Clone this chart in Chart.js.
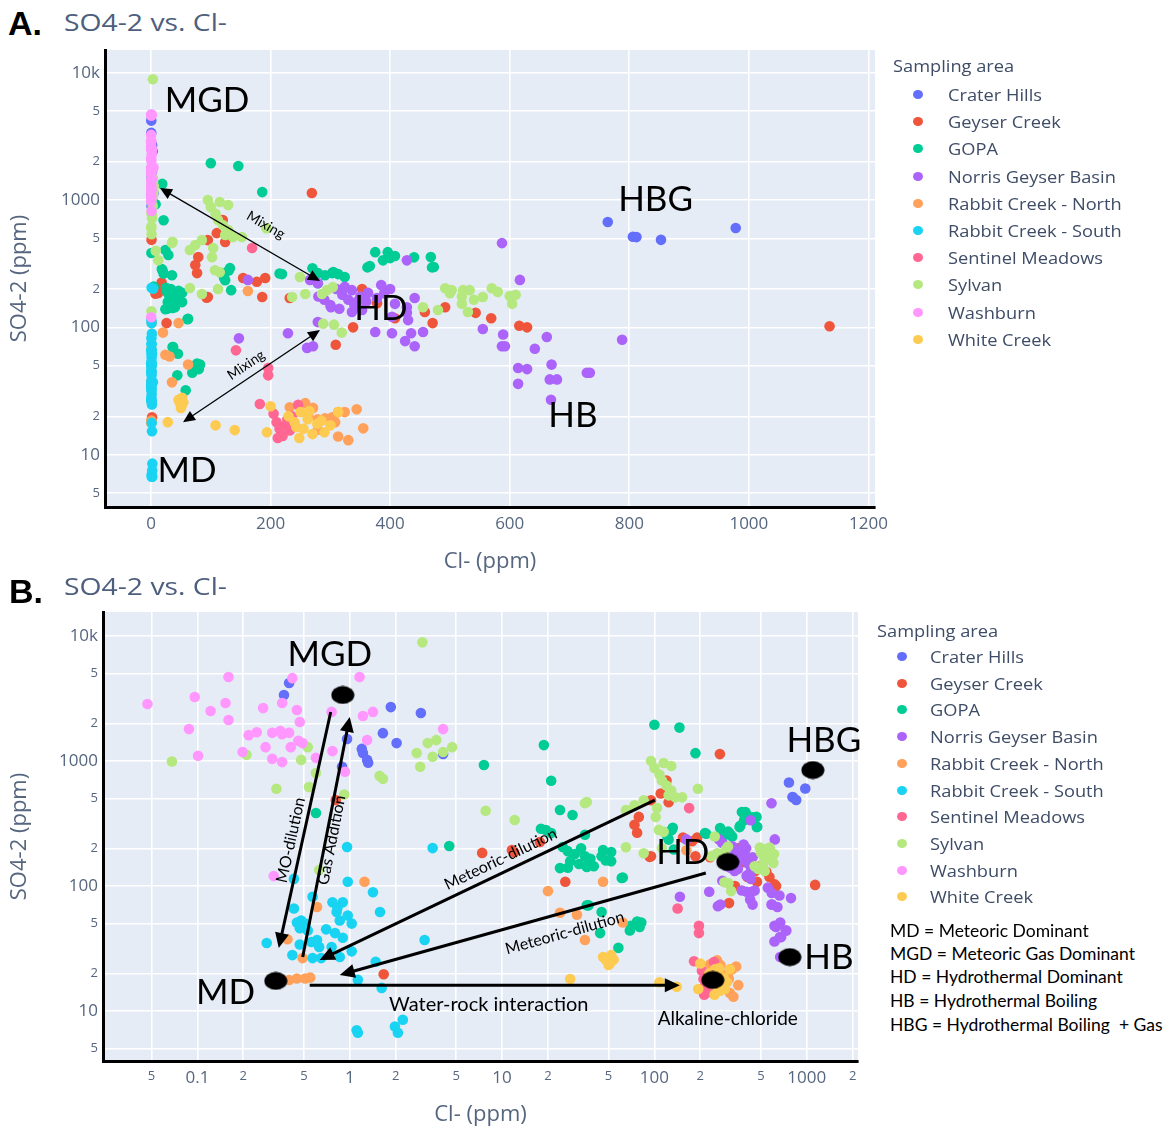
<!DOCTYPE html>
<html lang="en">
<head>
<meta charset="utf-8">
<title>SO4-2 vs. Cl-</title>
<script src="https://cdn.jsdelivr.net/npm/chart.js@4.4.1/dist/chart.umd.min.js"></script>
<style>
  html, body { margin: 0; padding: 0; background: #fff; }
  #page { position: relative; width: 1169px; height: 1132px; overflow: hidden; }
  canvas { position: absolute; }
  .letter { position: absolute; font: bold 34px/34px "Liberation Sans", Arial, sans-serif; color: #000; }
  .title { position: absolute; font: 24px/24px "Open Sans", sans-serif; color: #4e5f7d; white-space: nowrap;
           transform: scaleX(1.18); transform-origin: 0 0; }
  .legend-title, .legend-item { position: absolute; font: 16px/16px "Open Sans", sans-serif; color: #3e4c66;
           white-space: nowrap; transform: scaleX(1.14); transform-origin: 0 0; }
  .legend-dot { position: absolute; width: 10px; height: 9px; border-radius: 50%; }
  .abbr { position: absolute; font: 17.5px/18px Lato, sans-serif; color: #000; white-space: pre; }
</style>
</head>
<body>
<div id="page">
  <div class="letter" style="left:8px;top:6px">A.</div>
  <div class="title" style="left:64px;top:10px">SO4-2 vs. Cl-</div>
  <canvas id="chartA" width="905" height="550" style="left:0;top:30px"></canvas>

  <div class="letter" style="left:9px;top:574px">B.</div>
  <div class="title" style="left:64px;top:574px">SO4-2 vs. Cl-</div>
  <canvas id="chartB" width="880" height="540" style="left:0;top:592px"></canvas>
</div>

<script>
// ---------- sampling areas ----------
const areaNames = [
  'Crater Hills', 'Geyser Creek', 'GOPA', 'Norris Geyser Basin', 'Rabbit Creek - North',
  'Rabbit Creek - South', 'Sentinel Meadows', 'Sylvan', 'Washburn', 'White Creek'
];

// each sample: [Cl- (ppm), SO4-2 (ppm)]
const craterHills = [
  [0.40, 4210], [0.37, 3370], [1.86, 2700], [2.93, 2420], [1.65, 1670], [2.03, 1390], [0.96, 1500],
  [1.2, 1250], [1.22, 1160], [1.3, 1020], [1.32, 970], [0.89, 900], [4.1, 1140],
  [764, 672], [806, 515], [812, 512], [853, 487], [978, 603]
];
const geyserCreek = [
  [0.81, 487], [1.67, 19.7], [7.4, 184], [11.6, 194], [17.7, 225], [26, 108], [12, 186],
  [269, 1135], [120, 697], [110, 550], [124, 468], [95, 485], [79, 357], [74, 309], [77, 267],
  [154, 244], [177, 228], [191, 244], [186, 173], [232, 170], [95, 173], [93, 171],
  [338, 100], [309, 73], [353, 200], [378, 155], [408, 118], [458, 132], [471, 108], [492, 144],
  [543, 130], [569, 118], [629, 100], [616, 103], [1135, 102]
];
const gopa = [
  [0.6, 384], [4.5, 209], [7.6, 929], [18.8, 1340], [21, 695], [24, 405], [29, 370], [19.4, 280],
  [21, 265], [18, 287], [35, 257], [25, 205], [27, 190], [30, 180], [33, 200], [35, 173], [38, 165],
  [28, 158], [27, 140], [32, 150], [36, 145], [40, 144], [45, 173], [48, 160], [52, 187], [52, 158],
  [46, 194], [24, 139], [36, 142], [62, 117], [61, 116], [37, 70], [45, 62], [36, 70], [44, 42],
  [69, 44], [80, 47], [58, 32], [77, 52], [82, 51], [70, 48], [100, 1950], [146, 1850], [186, 1155],
  [132, 292], [119, 267], [124, 235], [134, 196], [130, 280], [122, 246], [219, 262], [279, 267],
  [291, 257], [303, 267], [313, 262], [324, 249], [279, 222], [270, 291], [305, 272], [215, 265],
  [366, 303], [388, 336], [396, 390], [408, 364], [468, 357], [473, 298], [375, 390], [400, 350],
  [440, 355], [470, 296], [362, 296]
];
const norris = [
  [162, 236], [266, 236], [279, 222], [324, 208], [336, 196], [301, 144], [336, 132], [353, 137],
  [363, 187], [378, 170], [408, 153], [428, 144], [441, 170], [428, 130], [403, 121], [430, 114],
  [279, 110], [229, 90], [261, 69], [271, 71], [375, 92], [403, 90], [425, 78], [435, 90], [455, 92],
  [441, 71], [587, 459], [555, 97], [589, 88], [587, 71], [592, 71], [617, 236], [614, 48], [614, 36],
  [428, 336], [662, 84], [642, 68], [629, 47], [670, 51], [667, 39], [679, 39], [669, 27], [729, 44],
  [734, 44], [788, 80], [147, 82], [310, 200], [320, 180], [345, 160], [350, 175], [390, 185],
  [400, 200], [385, 215], [360, 160], [330, 165], [290, 165], [300, 150], [315, 140], [340, 150],
  [280, 175]
];
const rabbitNorth = [
  [0.39, 37.5], [0.49, 26.5], [0.61, 68], [0.40, 17.7], [0.45, 18.2], [0.51, 18.2], [0.55, 18.5],
  [1.25, 108], [20, 91], [46, 108], [35, 37], [24, 61], [31, 59], [62, 51], [162, 193],
  [232, 23.6], [258, 25.4], [271, 23.3], [263, 20], [279, 19], [291, 19.3], [303, 19.7], [308, 18],
  [313, 21.6], [324, 21.6], [344, 22.7], [355, 16.1], [313, 13.9], [279, 15.7], [330, 13]
];
const rabbitSouth = [
  [0.285, 35], [0.42, 28], [0.43, 66], [0.45, 51], [0.48, 53], [0.51, 50], [0.47, 46], [0.53, 44],
  [0.47, 34], [0.57, 26.5], [0.65, 26.5], [0.63, 32.5], [0.56, 35.6], [0.61, 37], [0.76, 32.5],
  [0.86, 27], [0.9, 38.5], [1.03, 30], [0.77, 74], [0.82, 62], [0.86, 53], [0.90, 74], [0.97, 58],
  [1.03, 50], [0.83, 67], [0.57, 82], [0.43, 114], [1.42, 89], [1.58, 62], [1.48, 24.8], [1.62, 15.3],
  [1.13, 17.8], [1.11, 7], [1.13, 6.7], [1.98, 7.5], [2.07, 6.7], [2.23, 8.5], [3.1, 37], [0.96, 205],
  [3.5, 201], [0.97, 108], [0.7, 45], [0.8, 42]
];
const sentinel = [
  [169, 420], [142, 66], [196, 48], [196, 42], [182, 25], [246, 24.6], [205, 21], [210, 18],
  [215, 16], [220, 14], [228, 19], [232, 15.5], [212, 13.5], [225, 17], [236, 20]
];
const sylvan = [
  [3.0, 8900], [0.068, 990], [0.21, 1120], [0.48, 1020], [0.53, 1290], [0.6, 800], [0.54, 620],
  [0.33, 600], [0.92, 540], [0.63, 134], [1.57, 760], [1.65, 720], [2.75, 1160], [2.9, 900],
  [3.25, 1390], [3.7, 1470], [3.5, 1080], [4.1, 1180], [4.7, 1290], [7.8, 400], [12.1, 337],
  [35, 460], [36, 470], [65, 405], [74, 443], [85, 485], [104, 420], [102, 356], [107, 281],
  [115, 271], [65, 204], [85, 183], [112, 200], [95, 1000], [115, 965], [129, 913], [112, 697],
  [120, 636], [129, 581], [124, 531], [137, 512], [152, 512], [108, 780], [100, 880], [193, 600],
  [249, 249], [258, 183], [236, 173], [286, 183], [294, 196], [304, 207], [288, 107], [306, 105],
  [319, 91], [492, 203], [503, 196], [522, 196], [533, 196], [520, 153], [530, 132], [555, 173],
  [570, 203], [600, 176], [604, 153], [480, 137], [455, 144], [500, 185], [540, 165], [580, 190],
  [610, 180], [520, 175]
];
const washburn = [
  [0.047, 2860], [0.16, 4700], [0.096, 3250], [0.122, 2510], [0.153, 2910], [0.16, 2130],
  [0.088, 1800], [0.101, 1100], [0.198, 1180], [0.217, 1610], [0.245, 1700], [0.27, 2650],
  [0.28, 1290], [0.31, 1680], [0.35, 1740], [0.36, 1640], [0.40, 1680], [0.31, 1040], [0.36, 980],
  [0.36, 2910], [0.42, 4600], [0.45, 2560], [0.47, 2050], [0.41, 1290], [0.46, 1450], [0.49, 1390],
  [0.6, 1060], [0.76, 2470], [0.77, 1200], [0.93, 820], [1.16, 4700], [1.22, 2290], [1.42, 2470],
  [1.3, 1470], [4.1, 1800], [0.317, 120]
];
const whiteCreek = [
  [48, 25.7], [52, 28], [50, 23.3], [54, 25.8], [46, 27], [51, 24], [28, 18], [108, 17], [140, 15.6],
  [200, 24], [194, 15], [230, 20], [240, 18], [250, 21.6], [255, 16], [262, 19], [270, 14.5],
  [278, 17.5], [265, 22], [248, 13.5], [285, 18.5], [313, 21.6], [290, 15], [300, 17], [243, 16.5]
];
const areaSamples = [craterHills, geyserCreek, gopa, norris, rabbitNorth, rabbitSouth, sentinel, sylvan, washburn, whiteCreek];

// end members marked in panel B (MGD, MD, HD, HBG, HB, alkaline-chloride)
const keyPointCl = [0.9, 0.327, 303, 1097, 774, 241.7];
const keyPointSO4 = [3373, 17.4, 155.6, 847, 27.0, 17.7];

// ---------- ticks ----------
const so4Ticks = [5, 10, 20, 50, 100, 200, 500, 1000, 2000, 5000, 10000];
const so4TickLabels = ['5', '10', '2', '5', '100', '2', '5', '1000', '2', '5', '10k'];
const clTicksLinear = [0, 200, 400, 600, 800, 1000, 1200];
const clTickLabelsLinear = ['0', '200', '400', '600', '800', '1000', '1200'];
const clTicksLog = [0.05, 0.1, 0.2, 0.5, 1, 2, 5, 10, 20, 50, 100, 200, 500, 1000, 2000];
const clTickLabelsLog = ['5', '0.1', '2', '5', '1', '2', '5', '10', '2', '5', '100', '2', '5', '1000', '2'];

const abbreviations = [
  'MD = Meteoric Dominant',
  'MGD = Meteoric Gas Dominant',
  'HD = Hydrothermal Dominant',
  'HB = Hydrothermal Boiling',
  'HBG = Hydrothermal Boiling  + Gas'
];

// ---------- styles ----------
const areaColors = ['#636efa', '#ef553b', '#00cc96', '#ab63fa', '#ffa15a', '#19d3f3', '#ff6692', '#b6e880', '#ff97ff', '#fecb52'];
const tickColor = '#56667f';

// annotations, positioned in data units
const notesA = {
  lineWidth: 1.3, headLength: 12, headWidth: 5.5,
  arrows: [
    { from: [282.6, 231], to: [15, 1242], both: true },
    { from: [53.5, 18.0], to: [282.6, 95.2], both: true }
  ],
  labels: [
    { text: 'MGD', at: [93.6, 6000], size: 35 },
    { text: 'HD', at: [384.6, 139], size: 35 },
    { text: 'HBG', at: [844, 1000], size: 35 },
    { text: 'HB', at: [705.6, 20.1], size: 35 },
    { text: 'MD', at: [60.2, 7.43], size: 35 },
    { text: 'Mixing', at: [192, 637], size: 14, along: 0 },
    { text: 'Mixing', at: [159, 50.6], size: 14, along: 1 }
  ]
};
const notesB = {
  lineWidth: 3, headLength: 15, headWidth: 7,
  arrows: [
    { from: [0.75, 2466], to: [0.342, 31.9] },
    { from: [0.491, 27.0], to: [1.0, 2249] },
    { from: [100.6, 487], to: [0.635, 25.6] },
    { from: [217.6, 127], to: [0.86, 19.4] },
    { from: [0.546, 16.1], to: [146.8, 16.1] }
  ],
  labels: [
    { text: 'MGD', at: [0.739, 7050], size: 35 },
    { text: 'MD', at: [0.153, 13.9], size: 35 },
    { text: 'HD', at: [153.6, 183.6], size: 35 },
    { text: 'HBG', at: [1295, 1445], size: 35 },
    { text: 'HB', at: [1397, 26.5], size: 35 },
    { text: 'MO-dilution', at: [0.41, 233], size: 16, along: 0 },
    { text: 'Gas Addition', at: [0.762, 233], size: 16, along: 1 },
    { text: 'Meteoric-dilution', at: [9.8, 164], size: 16, along: 2 },
    { text: 'Meteoric-dilution', at: [25.8, 42.1], size: 16, along: 3 },
    { text: 'Water-rock interaction', at: [8.18, 11.2], size: 20 },
    { text: 'Alkaline-chloride', at: [303, 8.63], size: 19 }
  ]
};

// ---------- plugins ----------
const plotBackground = {
  id: 'plotBackground',
  beforeDraw(chart) {
    const { ctx, chartArea: { left, top, width, height } } = chart;
    ctx.save();
    ctx.fillStyle = '#e5ecf6';
    ctx.fillRect(left, top, width, height);
    ctx.restore();
  }
};

function notesPlugin(notes) {
  return {
    id: 'notes',
    afterDatasetsDraw(chart) {
      const { ctx, scales: { x, y } } = chart;
      const toPx = ([cl, so4]) => [x.getPixelForValue(cl), y.getPixelForValue(so4)];
      const L = notes.headLength, W = notes.headWidth;
      const arrows = notes.arrows.map(a => ({ a: toPx(a.from), b: toPx(a.to), both: a.both }));

      ctx.save();
      ctx.strokeStyle = '#000';
      ctx.fillStyle = '#000';
      ctx.lineWidth = notes.lineWidth;

      const head = (tip, ux, uy) => {
        ctx.beginPath();
        ctx.moveTo(tip[0], tip[1]);
        ctx.lineTo(tip[0] - ux * L - uy * W, tip[1] - uy * L + ux * W);
        ctx.lineTo(tip[0] - ux * L + uy * W, tip[1] - uy * L - ux * W);
        ctx.closePath();
        ctx.fill();
      };

      arrows.forEach(({ a, b, both }) => {
        const ang = Math.atan2(b[1] - a[1], b[0] - a[0]);
        const ux = Math.cos(ang), uy = Math.sin(ang);
        const start = both ? [a[0] + ux * L * 0.8, a[1] + uy * L * 0.8] : a;
        ctx.beginPath();
        ctx.moveTo(start[0], start[1]);
        ctx.lineTo(b[0] - ux * L * 0.8, b[1] - uy * L * 0.8);
        ctx.stroke();
        head(b, ux, uy);
        if (both) head(a, -ux, -uy);
      });

      ctx.textAlign = 'center';
      ctx.textBaseline = 'middle';
      notes.labels.forEach(l => {
        const [cx, cy] = toPx(l.at);
        let rot = 0;
        if (l.along !== undefined) {
          const { a, b } = arrows[l.along];
          let dx = b[0] - a[0], dy = b[1] - a[1];
          if (dx < 0) { dx = -dx; dy = -dy; }
          rot = Math.atan2(dy, dx);
        }
        ctx.font = `${l.size}px Lato, "Open Sans", sans-serif`;
        ctx.save();
        ctx.translate(cx, cy);
        ctx.rotate(rot);
        ctx.fillText(l.text, 0, 0);
        ctx.restore();
      });
      ctx.restore();
    }
  };
}

// black oval marker for end members
function blackOval() {
  const c = document.createElement('canvas');
  c.width = 24; c.height = 19;
  const g = c.getContext('2d');
  g.fillStyle = '#000';
  g.beginPath();
  g.ellipse(12, 9.5, 11.5, 9, 0, 0, Math.PI * 2);
  g.fill();
  return c;
}

const isDecade = v => Math.abs(Math.log10(v) - Math.round(Math.log10(v))) < 1e-9;
const bigTick = { family: 'Open Sans', size: 17 };
const smallTick = { family: 'Open Sans', size: 13 };

function makeChart(canvasId, cfg) {
  const datasets = areaNames.map((name, i) => ({
    label: name,
    data: areaSamples[i].map(([cl, so4]) => ({ x: cl, y: so4 })),
    backgroundColor: areaColors[i],
    borderWidth: 0,
    pointRadius: 5.3,
    pointHoverRadius: 5.3,
    order: areaNames.length - i
  }));
  if (cfg.keyPoints) {
    datasets.push({
      label: 'End members',
      data: keyPointCl.map((cl, i) => ({ x: cl, y: keyPointSO4[i] })),
      pointStyle: blackOval(),
      pointRadius: 11,
      order: 0
    });
  }

  return new Chart(document.getElementById(canvasId), {
    type: 'scatter',
    data: { datasets },
    options: {
      responsive: false,
      animation: false,
      devicePixelRatio: 1,
      layout: { padding: { left: 0, top: 20, right: cfg.padRight, bottom: 0 } },
      plugins: { legend: { display: false }, tooltip: { enabled: false } },
      scales: {
        x: {
          type: cfg.xLog ? 'logarithmic' : 'linear',
          min: cfg.xMin,
          max: cfg.xMax,
          afterBuildTicks: s => { s.ticks = cfg.xTicks.map(v => ({ value: v })); },
          afterFit: s => { s.height = cfg.xAxisHeight; },
          grid: { color: '#ffffff', lineWidth: 1.6, drawTicks: false },
          border: { color: '#000000', width: 3 },
          ticks: {
            autoSkip: false, maxRotation: 0, minRotation: 0, padding: 7, color: tickColor,
            font: c => (!cfg.xLog || isDecade(c.tick.value)) ? bigTick : smallTick,
            callback: (v, i) => cfg.xLabels[i]
          },
          title: {
            display: true, text: 'Cl- (ppm)', color: tickColor,
            font: { family: 'Open Sans', size: 22 }, padding: { top: 0, bottom: cfg.xTitlePad }
          }
        },
        y: {
          type: 'logarithmic',
          min: cfg.yMin,
          max: cfg.yMax,
          afterBuildTicks: s => { s.ticks = so4Ticks.map(v => ({ value: v })); },
          afterFit: s => { s.width = cfg.yAxisWidth; },
          grid: { color: '#ffffff', lineWidth: 1.6, drawTicks: false },
          border: { color: '#000000', width: 3 },
          ticks: {
            autoSkip: false, padding: 5, color: tickColor,
            font: c => isDecade(c.tick.value) ? bigTick : smallTick,
            callback: (v, i) => so4TickLabels[i]
          },
          title: {
            display: true, text: 'SO4-2 (ppm)', color: tickColor,
            font: { family: 'Open Sans', size: 22 }, padding: { top: 7, bottom: 0 }
          }
        }
      }
    },
    plugins: [plotBackground, notesPlugin(cfg.notes)]
  });
}

// ---------- legends ----------
function addText(cls, text, left, top) {
  const d = document.createElement('div');
  d.className = cls;
  d.textContent = text;
  d.style.left = left + 'px';
  d.style.top = top + 'px';
  document.getElementById('page').appendChild(d);
}

function buildLegend(titleX, titleTop, dotX, textX, rowTop, rowGap) {
  addText('legend-title', 'Sampling area', titleX, titleTop);
  areaNames.forEach((name, i) => {
    const top = rowTop + i * rowGap;
    const dot = document.createElement('div');
    dot.className = 'legend-dot';
    dot.style.background = areaColors[i];
    dot.style.left = (dotX - 5) + 'px';
    dot.style.top = (top + 3) + 'px';
    document.getElementById('page').appendChild(dot);
    addText('legend-item', name, textX, top);
  });
}

function init() {
  makeChart('chartA', {
    xLog: false, xMin: -77, xMax: 1211, xTicks: clTicksLinear, xLabels: clTickLabelsLinear,
    yMin: 3.88, yMax: 15100, padRight: 30, yAxisWidth: 105, xAxisHeight: 73, xTitlePad: 5,
    notes: notesA, keyPoints: false
  });
  makeChart('chartB', {
    xLog: true, xMin: 0.024, xMax: 2170, xTicks: clTicksLog, xLabels: clTickLabelsLog,
    yMin: 3.98, yMax: 15560, padRight: 22, yAxisWidth: 103, xAxisHeight: 71, xTitlePad: 4,
    notes: notesB, keyPoints: true
  });

  buildLegend(893, 58, 918, 948, 87, 27.2);
  buildLegend(877, 623, 902, 930, 649, 26.7);
  abbreviations.forEach((t, i) => addText('abbr', t, 890, [922, 945, 968, 992, 1016][i]));
}

document.addEventListener('DOMContentLoaded', init);
</script>
</body>
</html>
